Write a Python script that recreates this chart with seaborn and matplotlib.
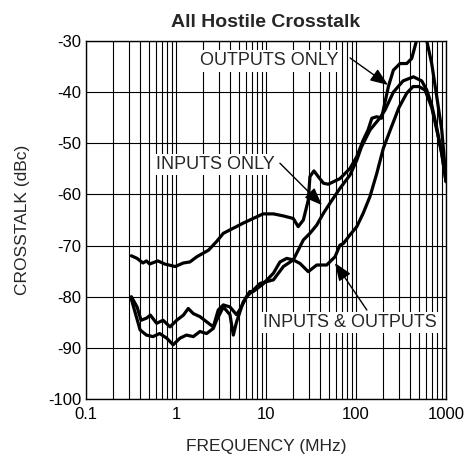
import numpy as np
import pandas as pd
import matplotlib
matplotlib.use("Agg")
import matplotlib.pyplot as plt
import seaborn as sns

# Crosstalk curves: frequency (MHz) and level (dBc)
outputs_only_freq = [0.32, 0.37, 0.43, 0.47, 0.51, 0.63, 0.75, 0.98, 1.21, 1.43, 1.70, 2.3, 2.83,
                     3.36, 4.34, 5.6, 7.2, 9.3, 12.1, 15.6, 20.1, 22.8, 26, 29.5, 30.8, 34.1, 38,
                     43.4, 49.2, 66.4, 85.8, 102, 120, 136, 150, 170, 192, 229, 260, 308, 366,
                     416, 472, 520, 560, 608, 693, 789, 896, 1000]
outputs_only_dbc = [-72.0, -72.5, -73.4, -73.0, -73.6, -73.0, -73.6, -74.1, -73.4, -73.2, -72.2, -70.9, -69.2,
                    -67.6, -66.6, -65.6, -64.7, -63.8, -63.8, -64.2, -64.7, -66.3, -65.0, -61.1, -56.5, -55.4, -56.5,
                    -57.8, -58.0, -56.9, -54.9, -52.6, -49.4, -47.4, -45.1, -44.8, -45.1, -38.9, -35.7, -34.4, -34.4,
                    -33.4, -29.8, -26.5, -26.5, -29.8, -34.4, -40.9, -47.4, -57.0]

inputs_only_freq = [0.32, 0.37, 0.41, 0.47, 0.52, 0.61, 0.72, 0.86, 1.02, 1.21, 1.37, 1.56, 1.85,
                    2.19, 2.6, 2.95, 3.36, 3.98, 4.7, 5.1, 6.1, 8.6, 12.1, 15.6, 20.1, 22.8, 26,
                    30.8, 36.6, 43.4, 51.4, 66.4, 85.8, 102, 115, 143, 185, 210, 260, 333, 434,
                    537, 608, 693, 789, 896, 1000]
inputs_only_dbc = [-80.0, -82.0, -84.6, -84.2, -83.6, -85.2, -84.6, -85.9, -84.6, -83.6, -82.3, -83.3, -83.9,
                   -84.9, -85.9, -82.6, -81.6, -82.0, -83.5, -82.6, -80.0, -77.4, -76.7, -74.1, -72.8, -70.9, -68.9,
                   -67.6, -66.0, -63.7, -61.7, -58.8, -56.2, -53.3, -50.7, -47.4, -45.0, -43.5, -40.0, -37.8, -37.0,
                   -37.8, -39.5, -42.5, -47.0, -52.0, -57.5]

in_out_freq = [0.32, 0.40, 0.47, 0.555, 0.66, 0.79, 0.93, 1.11, 1.31, 1.56, 1.85, 2.19, 2.6, 2.83,
               3.36, 3.98, 4.34, 4.7, 5.6, 6.6, 7.2, 9.3, 12.1, 14.3, 17, 20.1, 23.9, 29.5, 36.6,
               47.2, 58.4, 66.4, 72.3, 85.8, 102, 120, 143, 170, 201, 239, 300, 366, 430, 500,
               585, 693, 789, 896, 1000]
in_out_dbc = [-80.5, -86.5, -87.5, -87.8, -87.2, -88.1, -89.4, -88.1, -87.5, -87.8, -86.8, -87.2, -86.2, -84.6,
              -82.0, -83.5, -87.5, -85.0, -81.0, -79.0, -79.0, -77.5, -75.4, -73.2, -72.5, -72.8, -73.5, -75.1, -73.8,
              -73.8, -72.2, -69.9, -69.6, -67.9, -66.3, -63.7, -60.4, -55.9, -51.0, -47.5, -43.0, -40.2, -38.9, -38.9,
              -39.6, -43.0, -47.4, -52.0, -57.5]

x_ticks = [0.1, 1, 10, 100, 1000]
x_tick_labels = ["0.1", "1", "10", "100", "1000"]
y_ticks = [-100, -90, -80, -70, -60, -50, -40, -30]

# Curve labels: text, label centre, arrow tail, arrow tip (MHz, dBc)
label_texts = ["OUTPUTS ONLY", "INPUTS ONLY", "INPUTS & OUTPUTS"]
label_pos = [(10.8, -33.9), (2.75, -54.2), (85.8, -85.0)]
arrow_tail = [(85.8, -33.3), (14.3, -53.9), (132, -82.6)]
arrow_tip = [(227, -38.6), (41.9, -62.1), (58.4, -73.4)]

sns.set_style("white")
plt.rcParams["font.family"] = ["Liberation Sans", "DejaVu Sans"]

fig = plt.figure(figsize=(4.72, 4.61), dpi=100)
ax = fig.add_axes([0.182, 0.1345, 0.763, 0.7765])

curves = [
    (outputs_only_freq, outputs_only_dbc),
    (inputs_only_freq, inputs_only_dbc),
    (in_out_freq, in_out_dbc),
]
for freq, dbc in curves:
    df = pd.DataFrame({"freq": freq, "dbc": dbc})
    sns.lineplot(data=df, x="freq", y="dbc", color="black", linewidth=2.3,
                 estimator=None, sort=False, ax=ax, zorder=3)

ax.set_xscale("log")
ax.set_xlim(0.1, 1000)
ax.set_ylim(-100, -30)
ax.set_xticks(x_ticks)
ax.set_xticklabels(x_tick_labels)
ax.set_yticks(y_ticks)
ax.set_yticklabels([str(v) for v in y_ticks])
ax.xaxis.set_minor_locator(matplotlib.ticker.LogLocator(base=10, subs=np.arange(2, 10)))
ax.xaxis.set_minor_formatter(matplotlib.ticker.NullFormatter())
ax.grid(True, which="major", axis="both", color="black", linewidth=0.8)
ax.grid(True, which="minor", axis="x", color="black", linewidth=0.8)
ax.tick_params(axis="y", which="both", length=0, labelsize=12, pad=3, colors="black")
ax.tick_params(axis="x", which="both", length=0, labelsize=12, pad=6, colors="black")
for s in ax.spines.values():
    s.set_color("black")
    s.set_linewidth(1.0)

ax.set_xlabel("FREQUENCY (MHz)", fontsize=12.5, labelpad=12)
ax.set_ylabel("CROSSTALK (dBc)", fontsize=12.5, labelpad=13)
ax.set_title("All Hostile Crosstalk", fontsize=14, fontweight="bold", pad=10)

box = dict(facecolor="white", edgecolor="none", pad=1.5)
arrow = dict(arrowstyle="-|>,head_length=0.9,head_width=0.35", color="black", lw=1.0,
             shrinkA=0, shrinkB=0, mutation_scale=12)
for text, pos, tail, tip in zip(label_texts, label_pos, arrow_tail, arrow_tip):
    ax.text(pos[0], pos[1], text, fontsize=13, ha="center", va="center",
            bbox=box, zorder=5)
    ax.annotate("", xy=tip, xytext=tail, arrowprops=arrow, zorder=6)

fig.savefig("out.png", dpi=100, facecolor="white")
